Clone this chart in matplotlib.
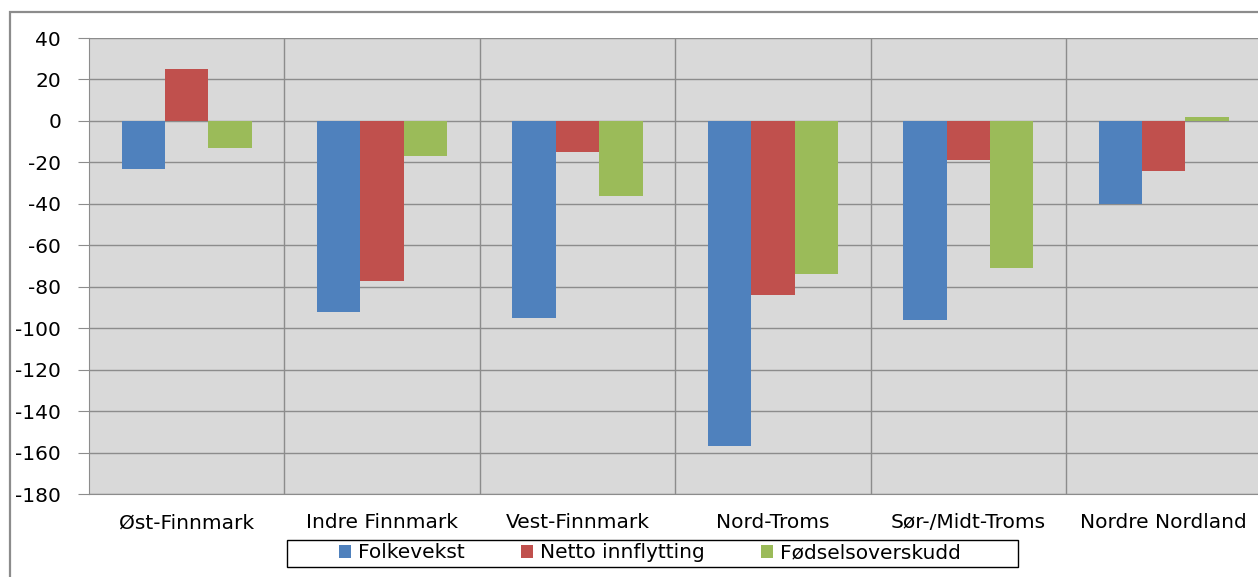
import matplotlib
matplotlib.use("Agg")
import matplotlib.pyplot as plt
import numpy as np
from matplotlib.patches import Rectangle

regions = ["Øst-Finnmark", "Indre Finnmark", "Vest-Finnmark", "Nord-Troms",
           "Sør-/Midt-Troms", "Nordre Nordland"]
folkevekst = [-23, -92, -95, -157, -96, -40]
netto_innflytting = [25, -77, -15, -84, -19, -24]
fodselsoverskudd = [-13, -17, -36, -74, -71, 2]
series_names = ["Folkevekst", "Netto innflytting", "Fødselsoverskudd"]
colors = ["#4F81BD", "#C0504D", "#9BBB59"]

plt.rcParams["font.family"] = ["DejaVu Sans"]
plt.rcParams["axes.unicode_minus"] = False
FS = 14.5
W, H = 1258, 577

fig = plt.figure(figsize=(W / 100, H / 100), dpi=100)
# outer chart border (cut off right and bottom like the reference)
fig.patches.append(Rectangle((10 / W, -0.1), 1.2, 1 - 12 / H + 0.1,
                             transform=fig.transFigure, fill=False,
                             edgecolor="#8C8C8C", lw=1.6))

ax = fig.add_axes([89 / W, 1 - 494 / H, 6 * 195.4 / W, 456 / H])
ax.set_facecolor("#D9D9D9")

x = np.arange(len(regions))
w = 0.222
for i, (vals, name, c) in enumerate(zip([folkevekst, netto_innflytting, fodselsoverskudd],
                                        series_names, colors)):
    ax.bar(x + (i - 1) * w, vals, width=w, color=c, label=name, zorder=3)

ax.set_xlim(-0.5, len(regions) - 0.5)
ax.set_ylim(-180, 40)
ax.set_yticks(range(-180, 41, 20))
ax.yaxis.grid(True, color="#8C8C8C", lw=1.0, zorder=1)
for b in np.arange(0.5, len(regions) - 0.5, 1):
    ax.axvline(b, color="#8C8C8C", lw=1.0, zorder=1)
ax.set_axisbelow(True)

ax.set_xticks(x)
ax.set_xticklabels(regions, fontsize=FS)
ax.tick_params(axis="x", length=0, pad=14)
ax.tick_params(axis="y", length=8, color="#8C8C8C", labelsize=FS, pad=12)
for s in ["top", "right"]:
    ax.spines[s].set_visible(False)
for s in ["left", "bottom"]:
    ax.spines[s].set_color("#8C8C8C")

# legend without its own frame; the box is drawn wider, as in the reference
fig.legend(loc="center", bbox_to_anchor=(650 / W, 1 - 553 / H), ncol=3,
           fontsize=FS, frameon=False, handlelength=0.6,
           handleheight=0.6, handletextpad=0.35, columnspacing=2.8,
           borderpad=0.15, borderaxespad=0)
fig.patches.append(Rectangle((287 / W, 1 - 567 / H), (1018 - 287) / W, 27 / H,
                             transform=fig.transFigure, fill=False,
                             edgecolor="black", lw=1.0))

fig.savefig("out.png", dpi=100)
